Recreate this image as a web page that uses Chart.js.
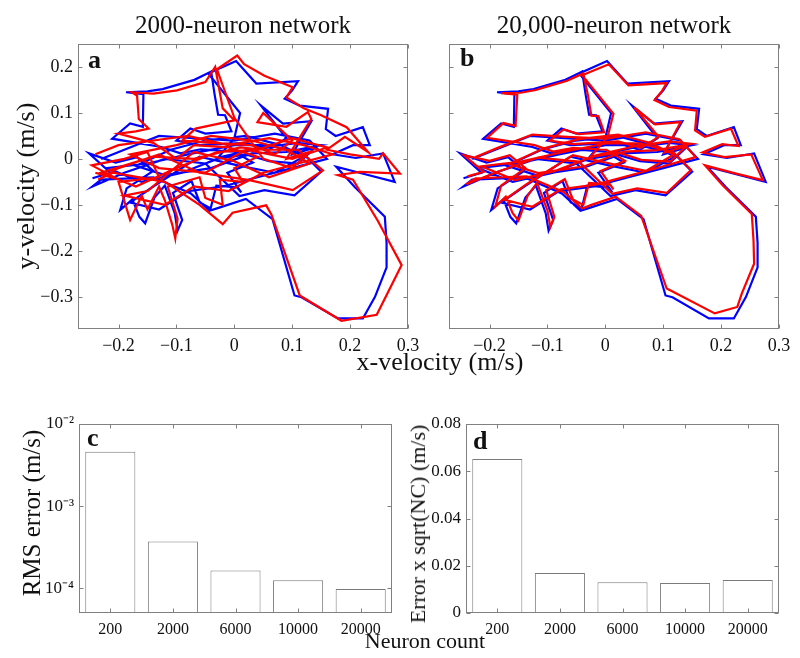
<!DOCTYPE html>
<html>
<head>
<meta charset="utf-8">
<script src="https://cdn.jsdelivr.net/npm/chart.js@4.4.1/dist/chart.umd.min.js"></script>
<style>
  body { margin: 0; background: #fff; }
  #fig { position: relative; width: 800px; height: 658px; font-family: "Liberation Serif", serif; color: #111; }
  canvas { position: absolute; }
  .lbl { position: absolute; white-space: nowrap; line-height: 1; }
  .panel { position: absolute; font-weight: bold; font-size: 26px; line-height: 26px; }
</style>
</head>
<body>
<div id="fig">
  <canvas id="chartA" width="420" height="380" style="left:0;top:0"></canvas>
  <canvas id="chartB" width="380" height="380" style="left:420px;top:0"></canvas>
  <canvas id="chartC" width="400" height="278" style="left:0;top:380px"></canvas>
  <canvas id="chartD" width="400" height="278" style="left:400px;top:380px"></canvas>

  <div class="lbl" style="left:243px;top:12px;font-size:25px;transform:translateX(-50%)">2000-neuron network</div>
  <div class="lbl" style="left:614px;top:12px;font-size:25px;transform:translateX(-50%)">20,000-neuron network</div>
  <div class="lbl" style="left:440px;top:349px;font-size:26px;transform:translateX(-50%)">x-velocity (m/s)</div>
  <div class="lbl" style="left:26px;top:186px;font-size:26px;transform:translate(-50%,-50%) rotate(-90deg)">y-velocity (m/s)</div>
  <div class="lbl" style="left:425px;top:630px;font-size:22px;transform:translateX(-50%)">Neuron count</div>
  <div class="lbl" style="left:31px;top:513px;font-size:25px;transform:translate(-50%,-50%) rotate(-90deg)">RMS error (m/s)</div>
  <div class="lbl" style="left:418px;top:524px;font-size:22px;transform:translate(-50%,-50%) rotate(-90deg)">Error x sqrt(NC) (m/s)</div>

  <div class="panel" style="left:88px;top:47px">a</div>
  <div class="panel" style="left:460px;top:45px">b</div>
  <div class="panel" style="left:87px;top:425px">c</div>
  <div class="panel" style="left:473px;top:428px">d</div>
</div>

<script>
// velocity axes
const velXTicks = [-0.2, -0.1, 0, 0.1, 0.2, 0.3];
const velYTicks = [-0.3, -0.2, -0.1, 0, 0.1, 0.2];

// actual hand velocity (blue), same in both panels
const actualVel = [
  [-0.245,-0.042],[-0.214,-0.030],[-0.251,0.012],[-0.205,-0.008],[-0.168,0.004],
  [-0.140,-0.026],[-0.186,-0.064],[-0.197,-0.111],[-0.176,-0.088],[-0.164,-0.126],
  [-0.154,-0.140],[-0.138,-0.084],[-0.120,-0.058],[-0.103,-0.118],[-0.098,-0.156],
  [-0.090,-0.133],[-0.106,-0.074],[-0.074,-0.048],[-0.060,-0.094],[-0.041,-0.108],
  [-0.031,-0.058],[0.005,-0.062],[0.012,-0.073],[-0.012,-0.030],[0.032,-0.008],
  [0.000,0.016],[-0.058,0.021],[-0.093,0.012],[-0.126,0.026],[-0.211,0.044],
  [-0.180,0.077],[-0.158,0.070],[-0.157,0.141],[-0.187,0.145],[-0.150,0.147],
  [-0.124,0.152],[-0.069,0.172],[-0.040,0.190],[-0.034,0.140],[-0.028,0.096],
  [-0.016,0.095],[-0.005,0.060],[-0.050,0.055],[-0.076,0.066],[-0.100,0.040],
  [-0.060,0.030],[0.020,0.035],[0.060,0.020],[0.090,0.045],[0.046,0.116],
  [0.084,0.077],[0.133,0.082],[0.100,0.010],[0.140,0.025],[0.110,-0.010],
  [0.060,-0.005],[0.020,0.010],[-0.030,0.000],[0.000,0.045],[0.010,0.100],
  [-0.045,0.186],[0.003,0.213],[0.038,0.164],[0.110,0.169],[0.100,0.149],
  [0.087,0.131],[0.113,0.116],[0.162,0.109],[0.158,0.065],[0.175,0.050],
  [0.222,0.069],[0.234,0.030],[0.205,0.030],[0.170,0.010],[0.210,0.002],
  [0.257,0.012],[0.277,-0.050],[0.231,-0.035],[0.176,-0.017],[0.208,-0.061],
  [0.260,-0.126],[0.263,-0.183],[0.263,-0.236],[0.243,-0.300],[0.222,-0.347],
  [0.179,-0.347],[0.116,-0.301],[0.104,-0.297],[0.066,-0.131],[0.020,-0.087],
  [-0.026,-0.106],[-0.043,-0.113],[-0.075,-0.075],[-0.140,-0.040],[-0.230,-0.045],
  [-0.245,-0.060],[-0.190,-0.030],[-0.120,0.000],[-0.050,-0.010],[0.009,-0.081],
  [0.052,-0.068],[0.104,-0.079],[0.150,-0.028],[0.120,0.010],[0.060,0.030],
  [0.000,0.030],[-0.080,0.010],[-0.150,-0.010],[-0.220,-0.020],[-0.160,-0.050],
  [-0.090,-0.030],[-0.020,0.005],[0.050,0.025],[0.110,0.035],[0.150,0.030],
  [0.090,0.015],[0.030,0.012],[-0.040,-0.020],[-0.120,-0.035],[-0.170,-0.015],
  [-0.110,0.020],[-0.050,0.040],[0.020,0.050],[0.080,0.030],[0.120,0.005],
  [0.070,-0.030],[0.010,-0.015],[-0.060,0.005],[-0.140,-0.060],[-0.180,-0.095],
  [-0.130,-0.110],[-0.080,-0.070],[-0.020,-0.060],[0.040,-0.040],[0.100,-0.020],
  [0.160,0.000],[0.130,0.040],[0.070,0.055],[0.000,0.040],[-0.070,0.045],
  [-0.130,0.050],[-0.190,0.020],[-0.230,0.000]
];

// decoded velocity, 2000-neuron network (red, panel a)
const decoded2000 = [
  [-0.240,-0.030],[-0.200,-0.045],[-0.246,-0.014],[-0.190,0.000],[-0.150,0.015],
  [-0.130,-0.040],[-0.200,-0.050],[-0.180,-0.133],[-0.160,-0.080],[-0.150,-0.110],
  [-0.130,-0.060],[-0.120,-0.090],[-0.107,-0.144],[-0.102,-0.173],[-0.098,-0.130],
  [-0.115,-0.060],[-0.060,-0.040],[-0.050,-0.085],[-0.020,-0.100],[-0.025,-0.045],
  [0.015,-0.050],[0.000,-0.020],[0.040,0.005],[-0.010,0.025],[-0.070,0.030],
  [-0.100,0.000],[-0.140,0.035],[-0.200,0.055],[-0.170,0.060],[-0.148,0.066],
  [-0.165,0.087],[-0.168,0.138],[-0.177,0.145],[-0.140,0.142],[-0.099,0.149],
  [-0.050,0.167],[-0.033,0.200],[-0.020,0.110],[0.000,0.084],[-0.067,0.066],
  [-0.090,0.040],[-0.040,0.035],[0.030,0.030],[0.070,0.010],[0.100,0.040],
  [0.050,0.100],[0.040,0.080],[0.090,0.070],[0.127,0.102],[0.133,0.087],
  [0.090,0.000],[0.130,0.015],[0.100,-0.020],[0.050,0.000],[0.000,0.090],
  [-0.030,0.195],[0.005,0.225],[0.017,0.206],[0.052,0.181],[0.101,0.156],
  [0.090,0.134],[0.120,0.110],[0.150,0.095],[0.194,0.069],[0.231,0.015],
  [0.191,0.048],[0.160,0.020],[0.200,0.010],[0.250,0.000],[0.257,0.012],
  [0.286,-0.032],[0.217,-0.028],[0.179,-0.035],[0.205,-0.045],[0.248,-0.135],
  [0.289,-0.231],[0.246,-0.339],[0.185,-0.352],[0.113,-0.297],[0.064,-0.121],
  [0.055,-0.101],[-0.003,-0.117],[-0.020,-0.142],[-0.060,-0.100],[-0.120,-0.050],
  [-0.210,-0.030],[-0.235,-0.045],[-0.200,-0.020],[-0.130,0.010],[-0.060,-0.030],
  [0.026,-0.046],[0.101,-0.068],[0.153,-0.025],[0.110,0.020],[0.050,0.020],
  [0.010,0.025],[-0.070,0.000],[-0.140,0.005],[-0.230,-0.030],[-0.170,-0.060],
  [-0.100,-0.020],[-0.030,0.015],[0.040,0.020],[0.100,0.045],[0.160,0.025],
  [0.100,0.000],[0.020,0.020],[-0.050,-0.030],[-0.130,-0.020],[-0.180,0.010],
  [-0.100,0.030],[-0.040,0.050],[0.030,0.040],[0.090,0.020],[0.130,-0.010],
  [0.060,-0.040],[0.000,-0.005],[-0.070,0.015],[-0.150,-0.070],[-0.190,-0.080],
  [-0.120,-0.100],[-0.070,-0.060],[-0.010,-0.070],[0.050,-0.030],[0.110,-0.010],
  [0.170,0.010],[0.120,0.030],[0.060,0.045],[-0.010,0.030],[-0.080,0.050],
  [-0.140,0.040],[-0.200,0.030],[-0.240,0.010]
];

// decoded velocity, 20,000-neuron network (red, panel b)
const decoded20000 = [
  [-0.238,-0.038],[-0.210,-0.028],[-0.244,0.008],[-0.200,-0.004],[-0.165,0.008],
  [-0.138,-0.020],[-0.180,-0.058],[-0.190,-0.104],[-0.172,-0.082],[-0.160,-0.118],
  [-0.150,-0.134],[-0.134,-0.080],[-0.118,-0.052],[-0.100,-0.112],[-0.095,-0.148],
  [-0.088,-0.126],[-0.102,-0.068],[-0.070,-0.044],[-0.056,-0.088],[-0.038,-0.100],
  [-0.028,-0.052],[0.008,-0.056],[0.014,-0.066],[-0.008,-0.026],[0.034,-0.004],
  [0.002,0.020],[-0.055,0.024],[-0.090,0.016],[-0.122,0.030],[-0.204,0.046],
  [-0.176,0.078],[-0.155,0.072],[-0.152,0.140],[-0.180,0.143],[-0.146,0.144],
  [-0.120,0.150],[-0.066,0.170],[-0.038,0.186],[-0.030,0.138],[-0.024,0.094],
  [-0.012,0.093],[-0.002,0.058],[-0.046,0.054],[-0.072,0.064],[-0.096,0.040],
  [-0.056,0.032],[0.022,0.038],[0.062,0.024],[0.092,0.048],[0.050,0.112],
  [0.086,0.075],[0.130,0.080],[0.102,0.014],[0.140,0.028],[0.112,-0.006],
  [0.062,-0.002],[0.022,0.014],[-0.026,0.004],[0.004,0.048],[0.014,0.098],
  [-0.040,0.182],[0.006,0.206],[0.040,0.160],[0.106,0.165],[0.097,0.146],
  [0.085,0.128],[0.110,0.113],[0.158,0.105],[0.155,0.062],[0.172,0.048],
  [0.217,0.066],[0.230,0.028],[0.202,0.032],[0.168,0.014],[0.206,0.004],
  [0.252,0.010],[0.272,-0.046],[0.226,-0.032],[0.172,-0.014],[0.203,-0.058],
  [0.253,-0.120],[0.256,-0.178],[0.257,-0.228],[0.236,-0.292],[0.228,-0.322],
  [0.189,-0.336],[0.117,-0.289],[0.106,-0.282],[0.062,-0.124],[0.018,-0.082],
  [-0.024,-0.100],[-0.040,-0.108],[-0.072,-0.072],[-0.136,-0.038],[-0.224,-0.042],
  [-0.240,-0.055],[-0.186,-0.028],[-0.116,0.003],[-0.046,-0.006],[0.012,-0.076],
  [0.055,-0.064],[0.106,-0.074],[0.148,-0.024],[0.118,0.014],[0.060,0.034],
  [0.002,0.034],[-0.077,0.014],[-0.146,-0.006],[-0.214,-0.016],[-0.156,-0.046],
  [-0.086,-0.026],[-0.016,0.008],[0.052,0.028],[0.110,0.038],[0.148,0.033],
  [0.090,0.019],[0.032,0.016],[-0.036,-0.016],[-0.116,-0.031],[-0.166,-0.011],
  [-0.106,0.023],[-0.046,0.043],[0.022,0.053],[0.080,0.034],[0.118,0.009],
  [0.070,-0.026],[0.012,-0.011],[-0.056,0.008],[-0.136,-0.055],[-0.174,-0.089],
  [-0.126,-0.104],[-0.077,-0.066],[-0.017,-0.056],[0.042,-0.036],[0.100,-0.016],
  [0.156,0.004],[0.128,0.043],[0.070,0.058],[0.002,0.044],[-0.066,0.048],
  [-0.126,0.053],[-0.186,0.024],[-0.224,0.004]
];

// bar panels
const neuronCounts = ["200", "2000", "6000", "10000", "20000"];
const rmsError = [4.6e-3, 3.7e-4, 1.65e-4, 1.25e-4, 9.8e-5];
const rmsTicks = [1e-4, 1e-3, 1e-2];
const scaledError = [0.0652, 0.0169, 0.0130, 0.0127, 0.0140];
const scaledTicks = [0, 0.02, 0.04, 0.06, 0.08];

const FONT = "Liberation Serif";
const frameColor = "#808080";

const framePlugin = {
  id: "frame",
  afterDatasetsDraw(chart) {
    const { ctx, chartArea: a, scales } = chart;
    const L = Math.round(a.left) + 0.5, R = Math.round(a.right) - 0.5;
    const T = Math.round(a.top) + 0.5, B = Math.round(a.bottom) - 0.5;
    ctx.save();
    ctx.strokeStyle = frameColor;
    ctx.lineWidth = 1;
    ctx.strokeRect(L, T, R - L, B - T);
    const len = 4;
    ctx.beginPath();
    scales.x.ticks.forEach((t, i) => {
      const p = Math.round(scales.x.getPixelForTick(i)) + 0.5;
      ctx.moveTo(p, B); ctx.lineTo(p, B - len);
      ctx.moveTo(p, T); ctx.lineTo(p, T + len);
    });
    scales.y.ticks.forEach((t, i) => {
      const p = Math.round(scales.y.getPixelForTick(i)) + 0.5;
      ctx.moveTo(L, p); ctx.lineTo(L + len, p);
      ctx.moveTo(R, p); ctx.lineTo(R - len, p);
    });
    ctx.stroke();
    ctx.restore();
  }
};

function minusFmt(v) {
  if (v === 0) return "0";
  return (v < 0 ? "\u2212" : "") + Math.abs(v);
}

const SUP = { "0": "\u2070", "1": "\u00b9", "2": "\u00b2", "3": "\u00b3", "4": "\u2074", "-": "\u207b" };
function powLabel(v) {
  const e = String(Math.round(Math.log10(v)));
  return "10" + e.split("").map(c => SUP[c]).join("");
}

function noGrid() {
  return { display: false, drawTicks: false };
}

function trajectoryChart(id, decoded, yWidth, showY, pad) {
  return new Chart(document.getElementById(id), {
    type: "scatter",
    data: {
      datasets: [
        {
          data: decoded.map(p => ({ x: p[0], y: p[1] })),
          showLine: true, borderColor: "#ff0000", borderWidth: 2.2, pointRadius: 0, tension: 0
        },
        {
          data: actualVel.map(p => ({ x: p[0], y: p[1] })),
          showLine: true, borderColor: "#0000ff", borderWidth: 2.2, pointRadius: 0, tension: 0
        }
      ]
    },
    options: {
      responsive: false,
      animation: false,
      events: [],
      layout: { padding: pad },
      plugins: { legend: { display: false }, tooltip: { enabled: false } },
      scales: {
        x: {
          type: "linear", min: -0.27, max: 0.3,
          grid: noGrid(), border: { display: false },
          ticks: { font: { family: FONT, size: 18 }, color: "#111", padding: 6, maxRotation: 0, autoSkip: false, callback: minusFmt },
          afterBuildTicks: s => { s.ticks = velXTicks.map(v => ({ value: v })); },
          afterFit: s => { s.height = 30; s.paddingLeft = 0; s.paddingRight = 0; }
        },
        y: {
          type: "linear", min: -0.37, max: 0.25,
          grid: noGrid(), border: { display: false },
          ticks: { display: showY, font: { family: FONT, size: 18 }, color: "#111", padding: 5, autoSkip: false, callback: minusFmt },
          afterBuildTicks: s => { s.ticks = velYTicks.map(v => ({ value: v })); },
          afterFit: s => { s.width = yWidth; s.paddingTop = 0; s.paddingBottom = 0; }
        }
      }
    },
    plugins: [framePlugin]
  });
}

trajectoryChart("chartA", decoded2000, 78, true, { left: 0, right: 12, top: 44, bottom: 21 });
trajectoryChart("chartB", decoded20000, 29, false, { left: 0, right: 21, top: 44, bottom: 21 });

function barChart(id, values, yScale, yWidth, pad) {
  return new Chart(document.getElementById(id), {
    type: "bar",
    data: {
      labels: neuronCounts,
      datasets: [{
        data: values,
        backgroundColor: "#ffffff", borderColor: "#7a7a7a", borderWidth: 1,
        categoryPercentage: 1, barPercentage: 0.8
      }]
    },
    options: {
      responsive: false,
      animation: false,
      events: [],
      layout: { padding: pad },
      plugins: { legend: { display: false }, tooltip: { enabled: false } },
      scales: {
        x: {
          type: "category",
          grid: noGrid(), border: { display: false },
          ticks: { font: { family: FONT, size: 16 }, color: "#111", padding: 7, maxRotation: 0, autoSkip: false },
          afterFit: s => { s.height = 30; s.paddingLeft = 0; s.paddingRight = 0; }
        },
        y: Object.assign({
          grid: noGrid(), border: { display: false },
          afterFit: s => { s.width = yWidth; s.paddingTop = 0; s.paddingBottom = 0; }
        }, yScale)
      }
    },
    plugins: [framePlugin]
  });
}

barChart("chartC", rmsError, {
  type: "logarithmic", min: 5e-5, max: 1e-2,
  ticks: { font: { family: FONT, size: 17 }, color: "#111", padding: 5, autoSkip: false, callback: v => powLabel(v) },
  afterBuildTicks: s => { s.ticks = rmsTicks.map(v => ({ value: v })); }
}, 79, { left: 0, right: 8, top: 44, bottom: 15 });

barChart("chartD", scaledError, {
  type: "linear", min: 0, max: 0.08,
  ticks: { font: { family: FONT, size: 17 }, color: "#111", padding: 5, autoSkip: false, callback: v => (v === 0 ? "0" : v.toFixed(2)) },
  afterBuildTicks: s => { s.ticks = scaledTicks.map(v => ({ value: v })); }
}, 66, { left: 0, right: 21, top: 44, bottom: 15 });
</script>
</body>
</html>
